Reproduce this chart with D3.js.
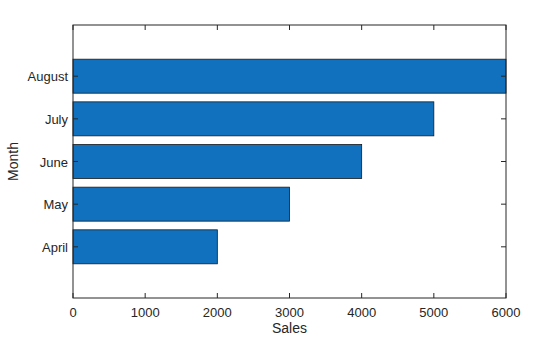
<!doctype html>
<html>
<head>
<meta charset="utf-8">
<script src="https://d3js.org/d3.v7.min.js"></script>
<style>
  body { margin: 0; background: #ffffff; }
  text { font-family: "Liberation Sans", Arial, sans-serif; fill: #262626; }
</style>
</head>
<body>
<script>
var months = ["April", "May", "June", "July", "August"];
var sales = [2000, 3000, 4000, 5000, 6000];
var xTicks = [0, 1000, 2000, 3000, 4000, 5000, 6000];

var w = 560, h = 337;
var padL = 73, padR = 506, padT = 25, padB = 298;

var svg = d3.select("body").append("svg")
  .attr("width", w).attr("height", h);

var x = d3.scaleLinear().domain([0, 6000]).range([padL, padR]);
var y = d3.scaleLinear().domain([-1.2, 5.2]).range([padB, padT]);
var barH = 34;

// bars
svg.append("g").selectAll("rect")
  .data(sales)
  .enter()
  .append("rect")
  .attr("x", x(0))
  .attr("y", function(d, i) { return y(i) - barH / 2; })
  .attr("width", function(d) { return x(d) - x(0); })
  .attr("height", barH)
  .style("fill", "#1171be")
  .style("stroke", "#1a1a1a")
  .style("stroke-width", 0.8);

// box
svg.append("rect")
  .attr("x", padL).attr("y", padT)
  .attr("width", padR - padL).attr("height", padB - padT)
  .style("fill", "none").style("stroke", "#262626").style("stroke-width", 1);

// x ticks bottom and top
var tick = 5;
xTicks.forEach(function(t) {
  svg.append("line").attr("x1", x(t)).attr("x2", x(t))
    .attr("y1", padB).attr("y2", padB - tick)
    .style("stroke", "#262626");
  svg.append("line").attr("x1", x(t)).attr("x2", x(t))
    .attr("y1", padT).attr("y2", padT + tick)
    .style("stroke", "#262626");
  svg.append("text").attr("x", x(t)).attr("y", padB + 19)
    .attr("text-anchor", "middle").style("font-size", "13px").text(t);
});

// y ticks left and right
months.forEach(function(m, i) {
  svg.append("line").attr("x1", padL).attr("x2", padL + tick)
    .attr("y1", y(i)).attr("y2", y(i)).style("stroke", "#262626");
  svg.append("line").attr("x1", padR).attr("x2", padR - tick)
    .attr("y1", y(i)).attr("y2", y(i)).style("stroke", "#262626");
  svg.append("text").attr("x", padL - 5).attr("y", y(i) + 5)
    .attr("text-anchor", "end").style("font-size", "13px").text(m);
});

// axis labels
svg.append("text").attr("x", (padL + padR) / 2).attr("y", 333)
  .attr("text-anchor", "middle").style("font-size", "14px").text("Sales");
svg.append("text")
  .attr("transform", "translate(18," + ((padT + padB) / 2) + ") rotate(-90)")
  .attr("text-anchor", "middle").style("font-size", "14px").text("Month");
</script>
</body>
</html>
